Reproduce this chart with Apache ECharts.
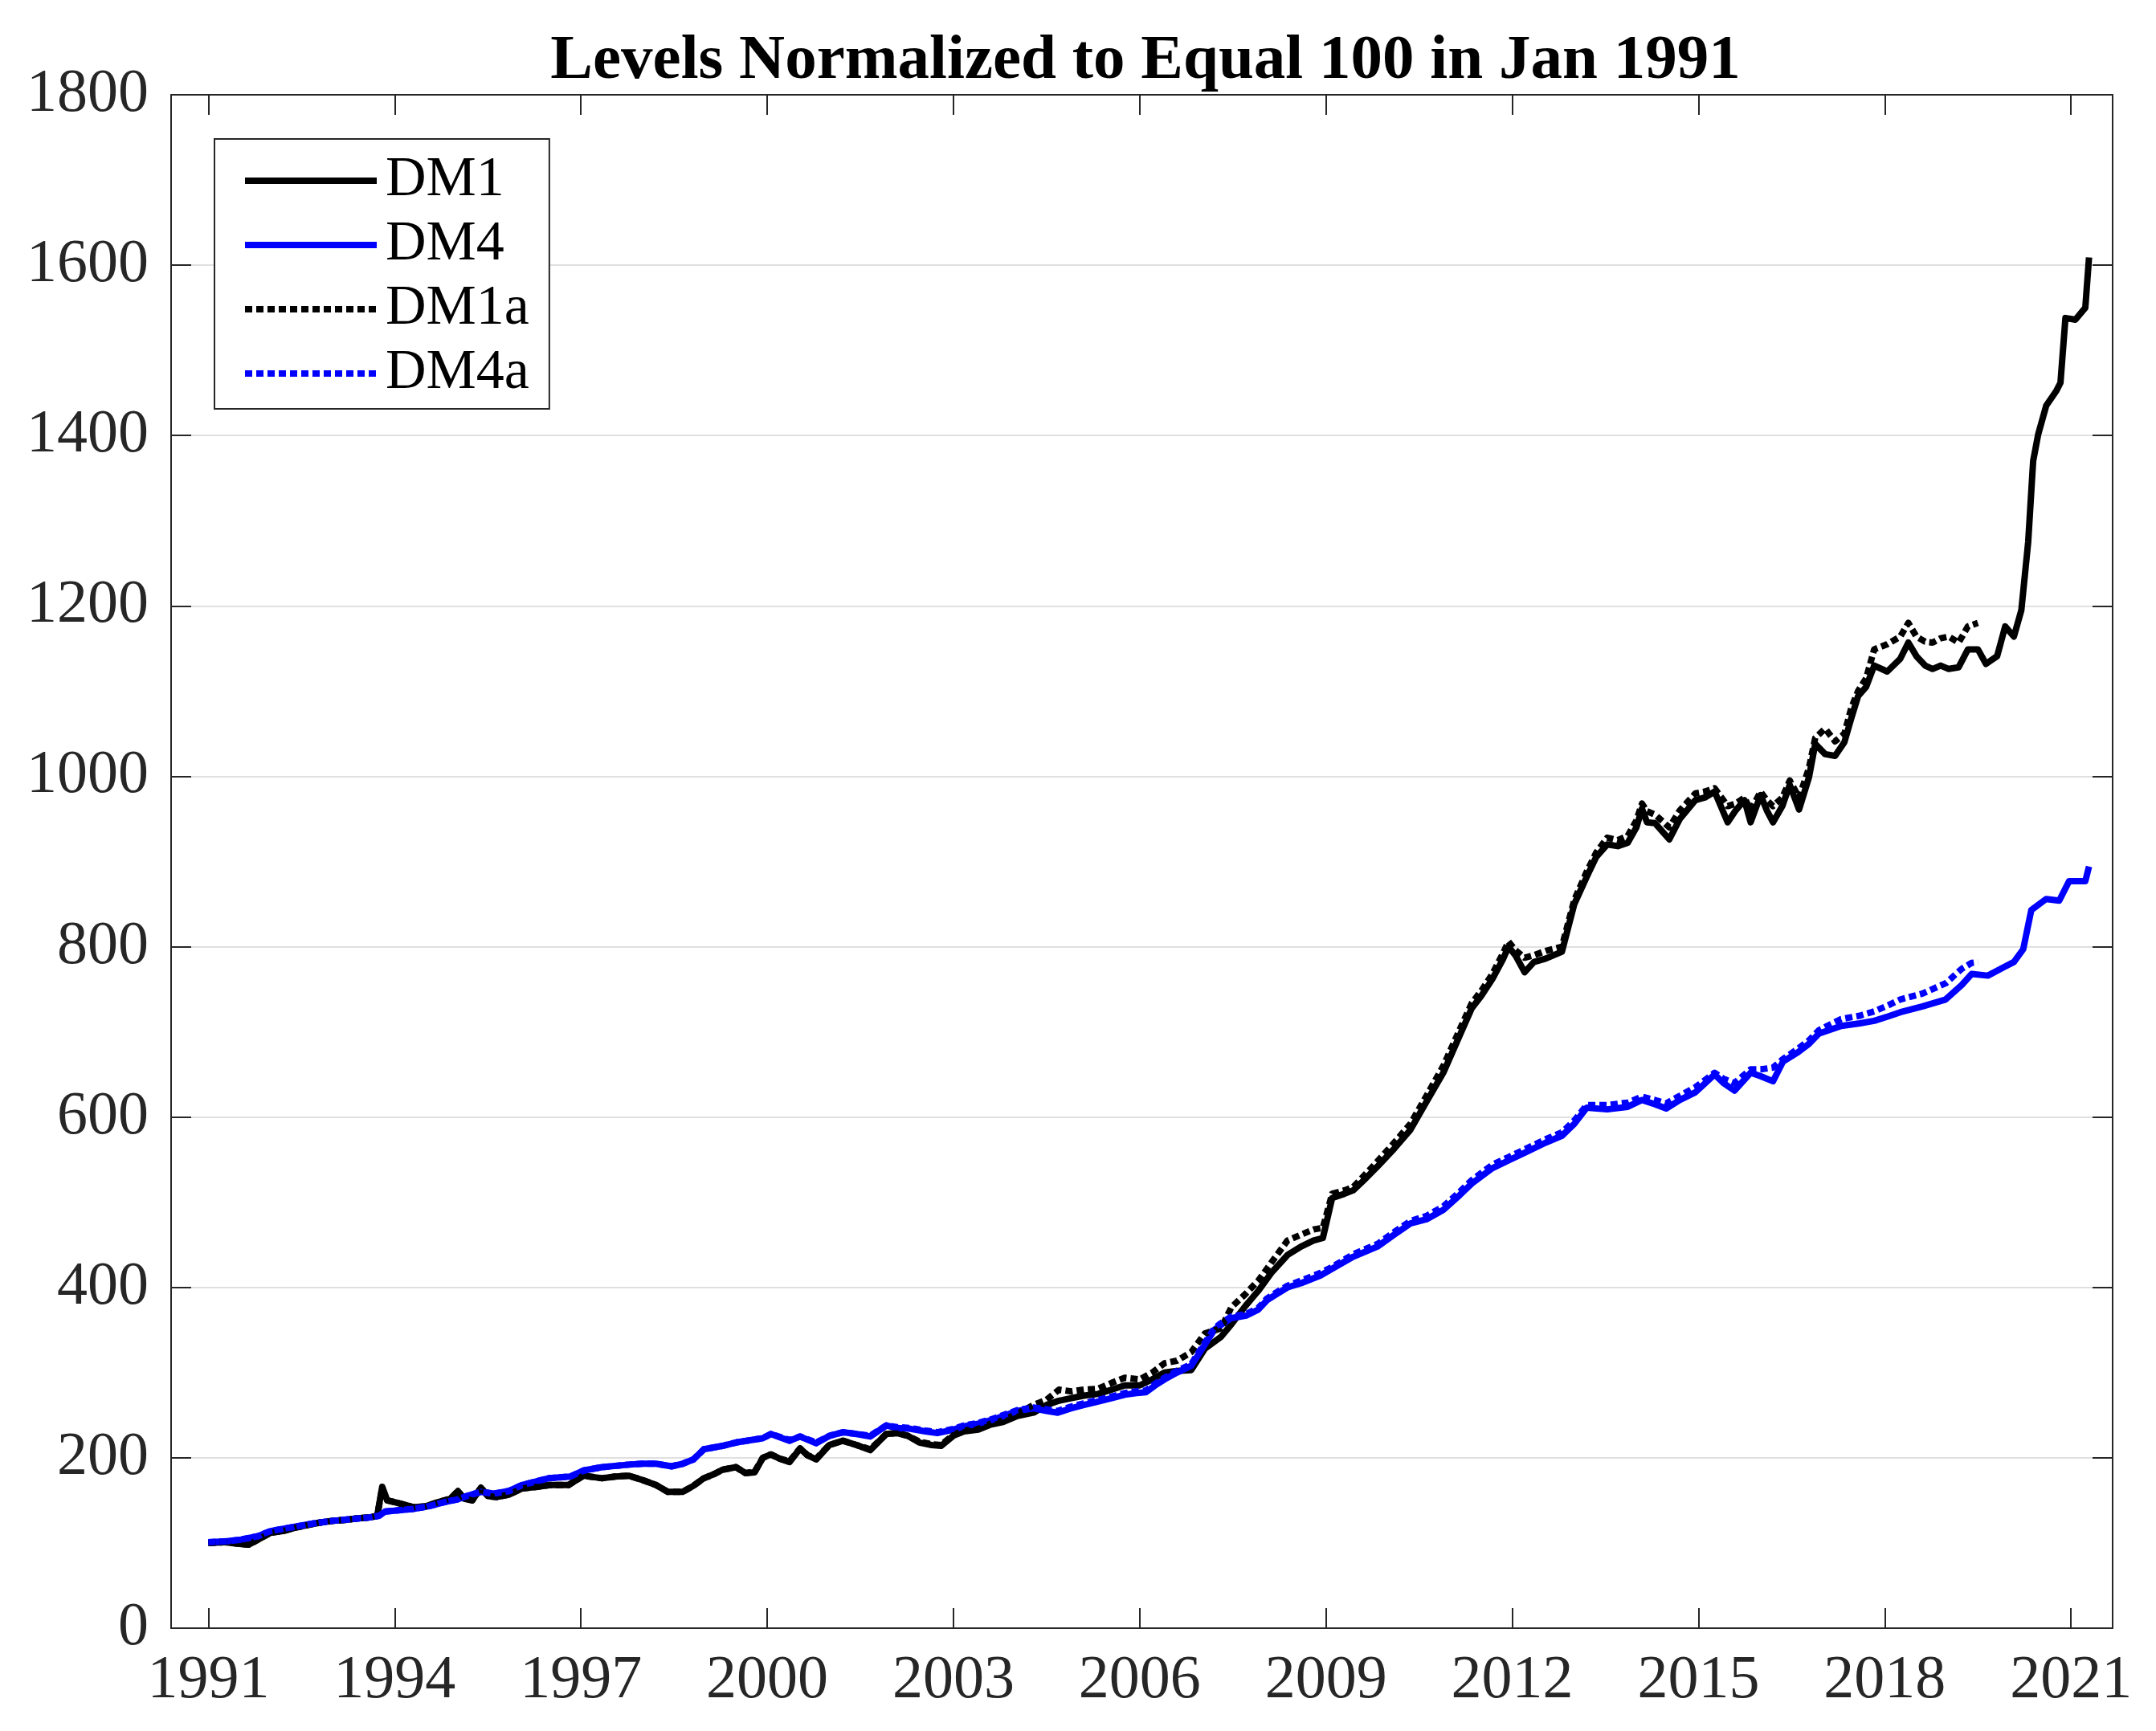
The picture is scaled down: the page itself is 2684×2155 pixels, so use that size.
<!DOCTYPE html>
<html><head><meta charset="utf-8">
<script src="https://cdn.jsdelivr.net/npm/echarts@6/dist/echarts.min.js"></script>
<style>html,body{margin:0;padding:0;background:#fff}#c{width:2684px;height:2155px}</style>
</head><body><div id="c"></div>
<script>
const titleText = 'Levels Normalized to Equal 100 in Jan 1991';
const seriesNames = ['DM1', 'DM4', 'DM1a', 'DM4a'];
const xTicks = [1991, 1994, 1997, 2000, 2003, 2006, 2009, 2012, 2015, 2018, 2021];

const dm1 = [[1991.0,100],[1991.25,101],[1991.5,99],[1991.65,98],[1991.8,104],[1992.0,112],[1992.2,114],[1992.4,118],[1992.6,121],[1992.8,124],[1993.0,126],[1993.2,127],[1993.4,129],[1993.6,130],[1993.72,132],[1993.8,166],[1993.88,150],[1994.0,148],[1994.15,145],[1994.3,142],[1994.5,143],[1994.7,148],[1994.9,152],[1995.02,161],[1995.12,152],[1995.25,150],[1995.39,165],[1995.5,155],[1995.65,154],[1995.85,157],[1996.05,164],[1996.3,166],[1996.5,168],[1996.8,168],[1997.04,179],[1997.34,176],[1997.55,178],[1997.77,179],[1997.99,174],[1998.21,168],[1998.4,160],[1998.64,160],[1998.81,167],[1998.98,176],[1999.15,181],[1999.28,186],[1999.5,189],[1999.65,182],[1999.8,183],[1999.93,200],[2000.06,204],[2000.2,199],[2000.36,195],[2000.53,211],[2000.65,203],[2000.79,198],[2001.0,215],[2001.22,220],[2001.44,215],[2001.66,209],[2001.92,228],[2002.09,229],[2002.26,226],[2002.45,218],[2002.65,215],[2002.8,214],[2003.0,226],[2003.17,231],[2003.4,233],[2003.6,239],[2003.8,242],[2004.03,249],[2004.29,253],[2004.5,262],[2004.7,267],[2004.9,270],[2005.1,273],[2005.33,275],[2005.55,280],[2005.76,285],[2006.0,285],[2006.2,292],[2006.4,300],[2006.6,302],[2006.83,303],[2007.05,328],[2007.31,342],[2007.48,357],[2007.7,378],[2007.91,396],[2008.13,418],[2008.38,438],[2008.6,448],[2008.8,455],[2008.95,458],[2009.1,505],[2009.3,510],[2009.44,514],[2009.6,525],[2009.83,542],[2010.1,563],[2010.36,585],[2010.62,618],[2010.89,652],[2011.15,695],[2011.35,728],[2011.5,742],[2011.68,762],[2011.85,785],[2011.94,800],[2012.05,790],[2012.2,770],[2012.35,782],[2012.54,786],[2012.8,794],[2013.0,850],[2013.2,882],[2013.35,905],[2013.53,920],[2013.7,918],[2013.86,922],[2014.0,940],[2014.09,962],[2014.17,946],[2014.3,945],[2014.53,926],[2014.7,950],[2014.95,972],[2015.1,975],[2015.26,982],[2015.47,946],[2015.6,960],[2015.74,972],[2015.84,946],[2016.0,978],[2016.1,960],[2016.2,946],[2016.35,965],[2016.47,990],[2016.62,961],[2016.78,999],[2016.88,1038],[2017.04,1026],[2017.2,1024],[2017.35,1040],[2017.46,1068],[2017.57,1094],[2017.7,1105],[2017.83,1130],[2018.04,1123],[2018.25,1138],[2018.38,1157],[2018.51,1141],[2018.65,1130],[2018.77,1126],[2018.9,1130],[2019.03,1126],[2019.19,1128],[2019.34,1149],[2019.5,1149],[2019.63,1132],[2019.81,1141],[2019.94,1176],[2020.08,1164],[2020.2,1195],[2020.31,1275],[2020.39,1370],[2020.47,1401],[2020.6,1435],[2020.76,1452],[2020.83,1462],[2020.91,1538],[2021.07,1536],[2021.23,1550],[2021.29,1609]];

const dm4 = [[1991.0,101],[1991.3,102],[1991.53,104],[1991.8,108],[1992.0,114],[1992.39,119],[1992.7,123],[1993.0,126],[1993.3,128],[1993.6,130],[1993.75,132],[1993.85,137],[1994.0,138],[1994.3,140],[1994.54,143],[1994.8,148],[1995.0,151],[1995.2,156],[1995.39,160],[1995.6,158],[1995.84,161],[1996.05,168],[1996.48,176],[1996.83,178],[1997.04,185],[1997.34,189],[1997.77,192],[1997.99,193],[1998.21,193],[1998.46,190],[1998.64,193],[1998.81,198],[1998.98,210],[1999.28,214],[1999.5,218],[1999.93,223],[2000.06,228],[2000.36,220],[2000.53,225],[2000.79,217],[2001.01,226],[2001.22,230],[2001.44,228],[2001.66,225],[2001.92,238],[2002.09,235],[2002.31,234],[2002.55,231],[2002.74,229],[2003.0,233],[2003.17,237],[2003.4,240],[2003.6,244],[2003.8,249],[2004.03,255],[2004.29,258],[2004.5,255],[2004.68,253],[2004.89,258],[2005.1,262],[2005.33,266],[2005.55,270],[2005.76,274],[2005.95,276],[2006.1,277],[2006.25,285],[2006.4,292],[2006.6,300],[2006.83,308],[2007.05,333],[2007.2,350],[2007.31,356],[2007.48,364],[2007.72,367],[2007.91,374],[2008.05,385],[2008.2,392],[2008.38,400],[2008.6,405],[2008.91,414],[2009.1,422],[2009.44,436],[2009.83,448],[2010.1,462],[2010.36,475],[2010.62,480],[2010.89,491],[2011.15,508],[2011.35,522],[2011.68,540],[2011.94,549],[2012.2,558],[2012.54,570],[2012.8,578],[2013.0,592],[2013.2,611],[2013.53,609],[2013.86,612],[2014.09,620],[2014.3,615],[2014.48,610],[2014.7,620],[2014.95,629],[2015.26,650],[2015.4,640],[2015.58,631],[2015.84,652],[2016.0,648],[2016.2,642],[2016.36,665],[2016.6,676],[2016.78,686],[2016.94,698],[2017.3,707],[2017.6,710],[2017.83,713],[2018.05,718],[2018.25,723],[2018.61,730],[2018.98,738],[2019.24,755],[2019.4,768],[2019.66,766],[2019.92,776],[2020.08,782],[2020.23,797],[2020.36,843],[2020.6,856],[2020.81,854],[2020.97,877],[2021.23,877],[2021.29,894]];

const dm1a = [[1991.0,100],[1991.25,101],[1991.5,99],[1991.65,98],[1991.8,104],[1992.0,112],[1992.2,114],[1992.4,118],[1992.6,121],[1992.8,124],[1993.0,126],[1993.2,127],[1993.4,129],[1993.6,130],[1993.72,132],[1993.8,164],[1993.88,150],[1994.0,148],[1994.15,145],[1994.3,142],[1994.5,143],[1994.7,148],[1994.9,152],[1995.02,161],[1995.12,152],[1995.25,150],[1995.39,165],[1995.5,155],[1995.65,154],[1995.85,157],[1996.05,164],[1996.3,166],[1996.5,168],[1996.8,168],[1997.04,179],[1997.34,176],[1997.55,178],[1997.77,179],[1997.99,174],[1998.21,168],[1998.4,160],[1998.64,160],[1998.81,167],[1998.98,176],[1999.15,181],[1999.28,186],[1999.5,189],[1999.65,182],[1999.8,184],[1999.93,200],[2000.06,204],[2000.2,199],[2000.36,196],[2000.53,211],[2000.65,203],[2000.79,199],[2001.0,215],[2001.22,220],[2001.44,215],[2001.66,210],[2001.92,228],[2002.09,229],[2002.26,226],[2002.45,219],[2002.65,216],[2002.8,215],[2003.0,227],[2003.17,232],[2003.4,234],[2003.6,240],[2003.8,244],[2004.03,252],[2004.29,262],[2004.5,268],[2004.7,280],[2004.9,278],[2005.1,280],[2005.33,281],[2005.55,288],[2005.76,294],[2006.0,292],[2006.2,300],[2006.4,311],[2006.6,314],[2006.83,324],[2007.05,346],[2007.31,352],[2007.48,377],[2007.7,392],[2007.91,408],[2008.13,430],[2008.38,455],[2008.6,462],[2008.8,468],[2008.95,470],[2009.1,510],[2009.3,514],[2009.44,518],[2009.6,530],[2009.83,548],[2010.1,570],[2010.36,592],[2010.62,625],[2010.89,660],[2011.15,702],[2011.35,734],[2011.5,748],[2011.68,768],[2011.85,792],[2011.94,806],[2012.05,796],[2012.2,787],[2012.35,790],[2012.54,795],[2012.8,800],[2013.0,855],[2013.2,888],[2013.35,910],[2013.53,928],[2013.7,925],[2013.86,930],[2014.0,948],[2014.09,968],[2014.17,959],[2014.3,955],[2014.53,940],[2014.7,960],[2014.95,980],[2015.1,982],[2015.26,986],[2015.47,965],[2015.6,968],[2015.74,975],[2015.84,960],[2016.0,982],[2016.1,972],[2016.2,965],[2016.35,975],[2016.47,995],[2016.62,975],[2016.78,1010],[2016.88,1045],[2017.04,1056],[2017.2,1041],[2017.35,1050],[2017.46,1080],[2017.57,1100],[2017.7,1115],[2017.83,1149],[2018.04,1155],[2018.25,1164],[2018.38,1180],[2018.51,1164],[2018.65,1158],[2018.77,1157],[2018.9,1162],[2019.03,1164],[2019.19,1157],[2019.34,1176],[2019.5,1180]];

const dm4a = [[1991.0,101],[1991.3,102],[1991.53,104],[1991.8,108],[1992.0,114],[1992.39,119],[1992.7,123],[1993.0,126],[1993.3,128],[1993.6,130],[1993.75,132],[1993.85,137],[1994.0,138],[1994.3,140],[1994.54,143],[1994.8,148],[1995.0,151],[1995.2,156],[1995.39,160],[1995.6,158],[1995.84,161],[1996.05,168],[1996.48,176],[1996.83,178],[1997.04,185],[1997.34,189],[1997.77,192],[1997.99,193],[1998.21,193],[1998.46,190],[1998.64,193],[1998.81,198],[1998.98,210],[1999.28,214],[1999.5,218],[1999.93,223],[2000.06,228],[2000.36,221],[2000.53,225],[2000.79,218],[2001.01,226],[2001.22,230],[2001.44,228],[2001.66,226],[2001.92,238],[2002.09,236],[2002.31,235],[2002.55,232],[2002.74,230],[2003.0,234],[2003.17,238],[2003.4,241],[2003.6,245],[2003.8,250],[2004.03,256],[2004.29,259],[2004.5,257],[2004.68,255],[2004.89,260],[2005.1,264],[2005.33,268],[2005.55,272],[2005.76,276],[2005.95,278],[2006.1,279],[2006.25,287],[2006.4,294],[2006.6,302],[2006.83,310],[2007.05,335],[2007.2,352],[2007.31,358],[2007.48,366],[2007.72,369],[2007.91,376],[2008.05,387],[2008.2,394],[2008.38,402],[2008.6,408],[2008.91,417],[2009.1,424],[2009.44,439],[2009.83,451],[2010.1,465],[2010.36,478],[2010.62,484],[2010.89,495],[2011.15,512],[2011.35,526],[2011.68,544],[2011.94,553],[2012.2,562],[2012.54,574],[2012.8,582],[2013.0,596],[2013.2,614],[2013.53,614],[2013.86,617],[2014.09,624],[2014.3,620],[2014.48,616],[2014.7,625],[2014.95,635],[2015.26,652],[2015.4,645],[2015.58,640],[2015.84,656],[2016.0,656],[2016.2,658],[2016.36,668],[2016.6,680],[2016.78,690],[2016.94,702],[2017.3,715],[2017.6,719],[2017.83,724],[2018.05,731],[2018.25,738],[2018.61,745],[2018.98,757],[2019.24,774],[2019.4,781],[2019.5,782]];

const FONT = '"Liberation Serif", "DejaVu Serif", serif';
const AX = '#262626';
const DASH = [9, 5];
const LW = 8;

const chart = echarts.init(document.getElementById('c'), null, {renderer: 'canvas'});
const axisLineStyle = {color: AX, width: 2};
const plain = function (v) { return String(v); };
const xBase = {
  type: 'value', min: 1990.4, max: 2021.67,
  axisLine: {show: true, onZero: false, lineStyle: axisLineStyle},
  axisTick: {show: true, inside: true, length: 25, customValues: xTicks, lineStyle: axisLineStyle},
  splitLine: {show: false}
};
const yBase = {
  type: 'value', min: 0, max: 1800, interval: 200,
  axisLine: {show: true, onZero: false, lineStyle: axisLineStyle},
  axisTick: {show: true, inside: true, length: 25, lineStyle: axisLineStyle}
};

function lineSeries(name, data, color, dashed) {
  return {
    name: name, type: 'line', data: data, xAxisIndex: 0, yAxisIndex: 0,
    showSymbol: false, symbol: 'none', smooth: false,
    lineStyle: {color: color, width: LW, type: dashed ? DASH : 'solid', cap: 'butt', join: 'round'},
    itemStyle: {color: color},
    emphasis: {disabled: true}
  };
}

chart.setOption({
  animation: false,
  backgroundColor: '#fff',
  title: {
    text: titleText, left: 1421, top: 32, textAlign: 'center',
    textStyle: {fontFamily: FONT, fontWeight: 'bold', fontSize: 79, color: '#000'}
  },
  legend: {
    orient: 'vertical', left: 267, top: 173,
    padding: [17, 25, 9, 34],
    itemWidth: 164, itemHeight: 16, itemGap: 10,
    backgroundColor: '#fff', borderColor: AX, borderWidth: 2, borderRadius: 0,
    itemStyle: {opacity: 0},
    lineStyle: {width: LW},
    textStyle: {fontFamily: FONT, fontSize: 70, color: '#000', lineHeight: 64, padding: [0, 0, 0, 6]},
    data: seriesNames
  },
  grid: {left: 213, right: 54, top: 118, bottom: 128, containLabel: false},
  xAxis: [
    Object.assign({}, xBase, {position: 'bottom',
      axisLabel: {show: true, customValues: xTicks, formatter: plain, fontFamily: FONT, fontSize: 76, color: AX, margin: 28}}),
    Object.assign({}, xBase, {position: 'top', axisLabel: {show: false}})
  ],
  yAxis: [
    Object.assign({}, yBase, {position: 'left',
      axisLabel: {show: true, formatter: plain, fontFamily: FONT, fontSize: 76, color: AX, margin: 28},
      splitLine: {show: true, lineStyle: {color: '#e0e0e0', width: 2}}}),
    Object.assign({}, yBase, {position: 'right', axisLabel: {show: false}, splitLine: {show: false}})
  ],
  series: [
    lineSeries(seriesNames[0], dm1, '#000000', false),
    lineSeries(seriesNames[1], dm4, '#0000ff', false),
    lineSeries(seriesNames[2], dm1a, '#000000', true),
    lineSeries(seriesNames[3], dm4a, '#0000ff', true)
  ]
});
</script>
</body></html>
